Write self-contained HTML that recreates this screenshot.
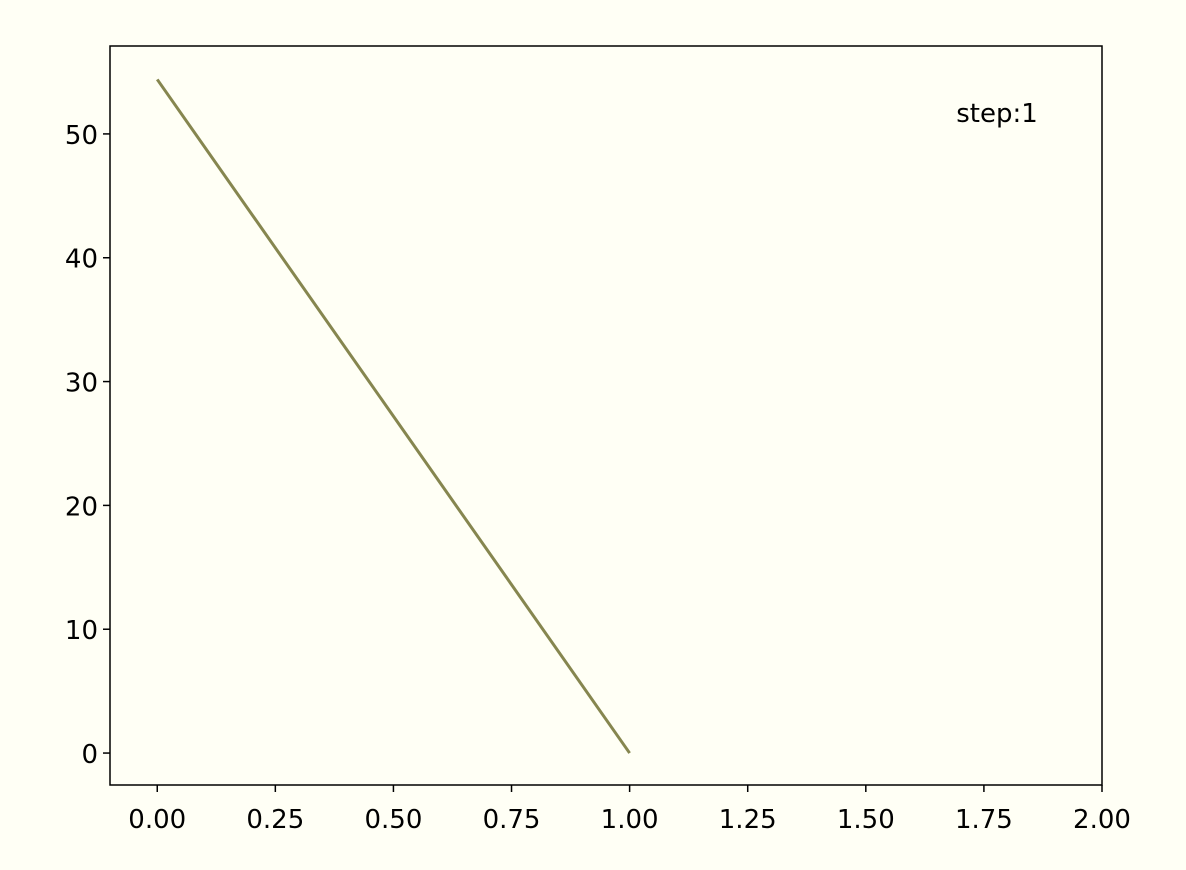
<!DOCTYPE html>
<html><head><meta charset="utf-8"><style>
html,body{margin:0;padding:0;background:#fffff5;}
svg{display:block;font-family:"DejaVu Sans","Liberation Sans",sans-serif;}
</style></head><body>
<svg id="chart" width="1186" height="870" xmlns="http://www.w3.org/2000/svg">
<rect x="0" y="0" width="1186" height="870" fill="#fffff5"/>
<g id="ticks"></g>
<path id="series" fill="none" stroke="#86864f" stroke-width="3"/>
<rect x="110" y="46" width="992" height="739" fill="none" stroke="#000" stroke-width="1.5"/>
<text x="997" y="122" font-size="26" text-anchor="middle" fill="#000">step:1</text>
</svg>
<script>
const xValues = [0, 1];
const yValues = [54.4, 0];
const xTicks = [0, 0.25, 0.5, 0.75, 1.0, 1.25, 1.5, 1.75, 2.0];
const xTickLabels = ["0.00","0.25","0.50","0.75","1.00","1.25","1.50","1.75","2.00"];
const yTicks = [0, 10, 20, 30, 40, 50];
const yTickLabels = ["0","10","20","30","40","50"];

const L=110,R=1102,T=46,B=785;
const xMin=-0.1,xMax=2.0,yMin=-2.58,yMax=57.1;
const sx=v=>L+(v-xMin)/(xMax-xMin)*(R-L);
const sy=v=>B-(v-yMin)/(yMax-yMin)*(B-T);
const NS="http://www.w3.org/2000/svg";
const g=document.getElementById('ticks');
xTicks.forEach((t,i)=>{
  const l=document.createElementNS(NS,'line');
  l.setAttribute('x1',sx(t));l.setAttribute('x2',sx(t));l.setAttribute('y1',B);l.setAttribute('y2',B+7);
  l.setAttribute('stroke','#000');l.setAttribute('stroke-width','1.5');
  
  
  g.appendChild(l);
  const tx=document.createElementNS(NS,'text');
  tx.setAttribute('x',sx(t));tx.setAttribute('y',B+43);tx.setAttribute('text-anchor','middle');tx.setAttribute('font-size','26');
  tx.textContent=xTickLabels[i];
  
  
  g.appendChild(tx);
});
yTicks.forEach((t,i)=>{
  const l=document.createElementNS(NS,'line');
  l.setAttribute('x1',L-7);l.setAttribute('x2',L);l.setAttribute('y1',sy(t));l.setAttribute('y2',sy(t));
  l.setAttribute('stroke','#000');l.setAttribute('stroke-width','1.5');
  
  
  g.appendChild(l);
  const tx=document.createElementNS(NS,'text');
  tx.setAttribute('x',L-12);tx.setAttribute('y',sy(t)+10);tx.setAttribute('text-anchor','end');tx.setAttribute('font-size','26');
  tx.textContent=yTickLabels[i];
  
  
  g.appendChild(tx);
});
document.getElementById('series').setAttribute('d',xValues.map((x,i)=>(i?'L':'M')+sx(x)+' '+sy(yValues[i])).join(' '));
</script>
</body></html>
